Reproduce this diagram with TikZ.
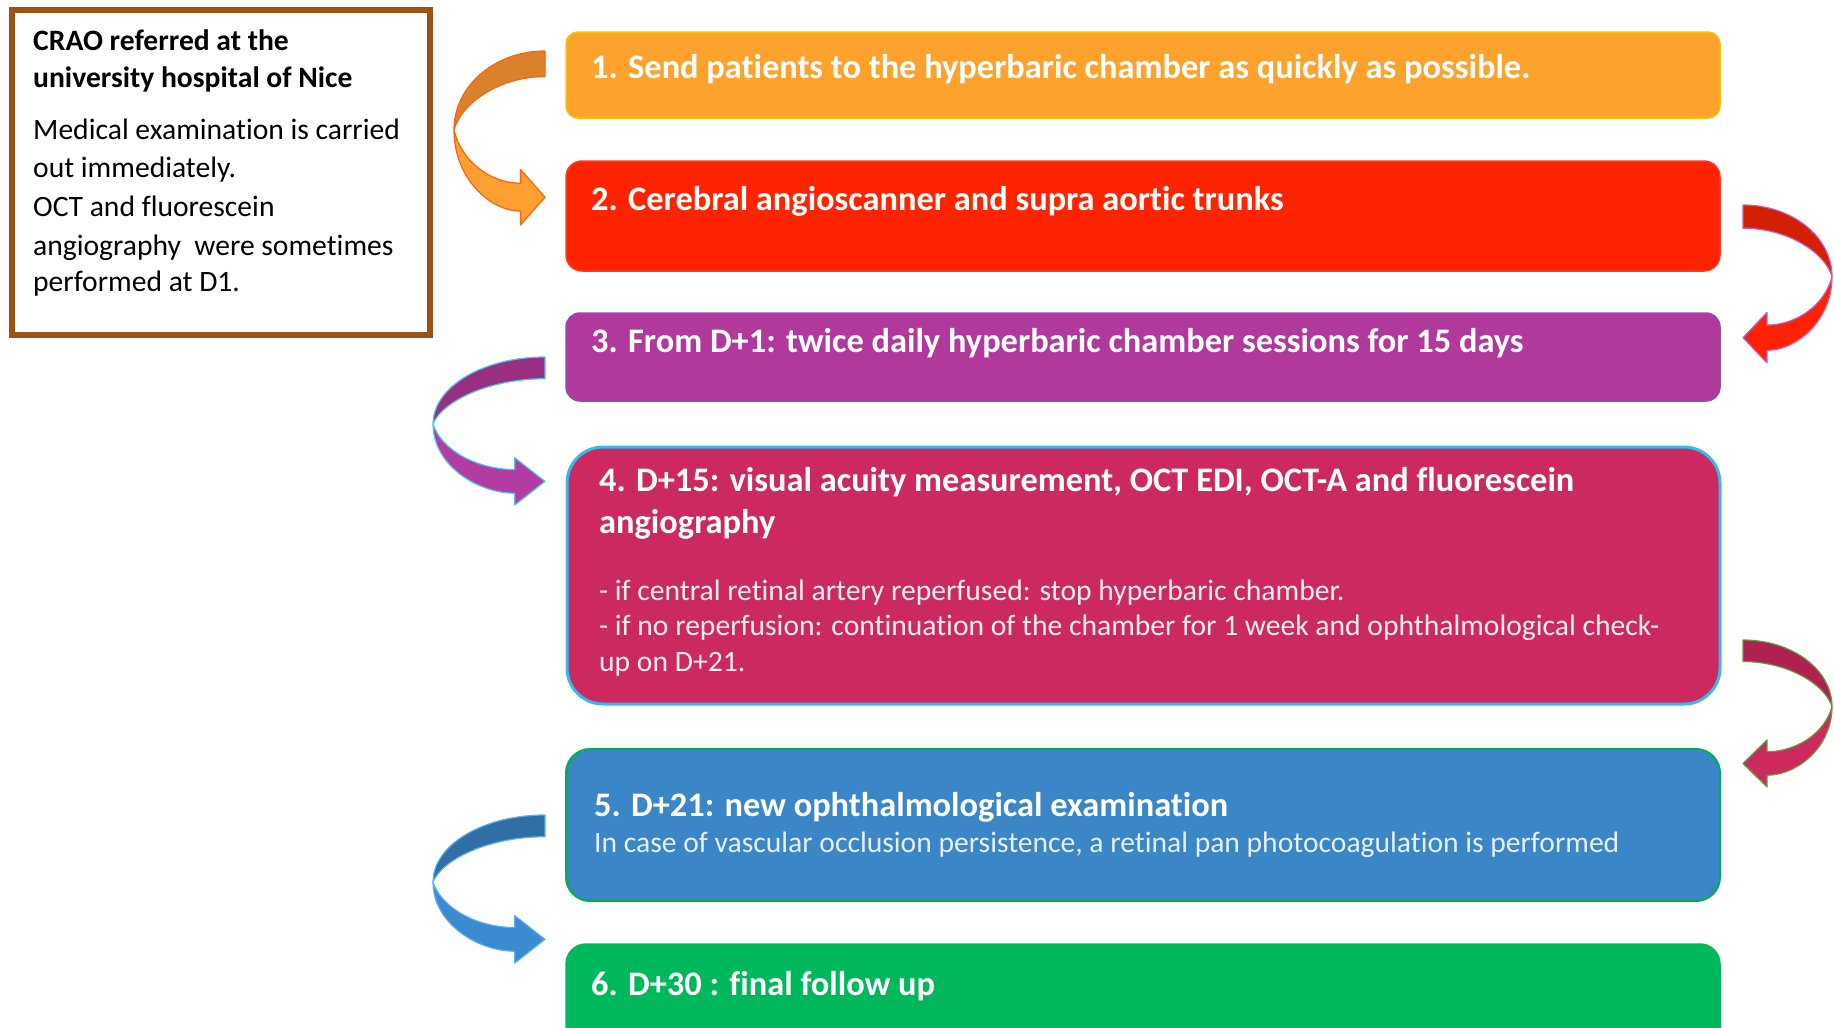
\documentclass[tikz,border=0pt]{standalone}
\usepackage{fontspec}
\setmainfont[Ligatures=NoCommon]{Carlito}
\definecolor{c1}{HTML}{FDA22D}
\definecolor{c1b}{HTML}{FFC000}
\definecolor{c2}{HTML}{FF2400}
\definecolor{c2b}{HTML}{FF3A1A}
\definecolor{c3}{HTML}{B0399B}
\definecolor{c3b}{HTML}{8E4BB0}
\definecolor{c4}{HTML}{CC2A5F}
\definecolor{c4b}{HTML}{3AB8EA}
\definecolor{c5}{HTML}{3A86C6}
\definecolor{c5b}{HTML}{00B050}
\definecolor{c6}{HTML}{00B85C}
\definecolor{brownb}{HTML}{9C5211}
\definecolor{aAd}{HTML}{D9822B}
\definecolor{aAl}{HTML}{FFA030}
\definecolor{aAo}{HTML}{FF6010}
\definecolor{aBd}{HTML}{9A2F82}
\definecolor{aBl}{HTML}{B23CA2}
\definecolor{aBo}{HTML}{4FC3F7}
\definecolor{aCd}{HTML}{2F6FA6}
\definecolor{aCl}{HTML}{3C8AD0}
\definecolor{aCo}{HTML}{5AB0F0}
\definecolor{aDd}{HTML}{D42000}
\definecolor{aDl}{HTML}{FF2200}
\definecolor{aDo}{HTML}{C060C0}
\definecolor{aEd}{HTML}{B02050}
\definecolor{aEl}{HTML}{CC2A5F}
\definecolor{aEo}{HTML}{6A9A40}
\newcommand\ribbonarrow[3]{%
  \filldraw[fill=#1,draw=#3,line width=1.2pt,line join=round]
    (0,0) .. controls (-55,0) and (-100,30) .. (-100,68)
    .. controls (-92,45) and (-50,22) .. (0,22) -- cycle;
  \filldraw[fill=#2,draw=#3,line width=1.2pt,line join=round]
    (-100,68) .. controls (-100,110) and (-60,138) .. (-27,138)
    -- (-27,150) -- (0,126) -- (-27,102) -- (-27,114)
    .. controls (-60,114) and (-92,95) .. (-100,68) -- cycle;
}
\tikzset{
  stepbox/.style={line width=1.5pt},
  ttl/.style={anchor=base west,inner sep=0pt,text=white,font=\fontsize{34.4}{40}\selectfont\bfseries},
  bdy/.style={anchor=base west,inner sep=0pt,font=\fontsize{29.6}{35}\selectfont},
  lft/.style={anchor=base west,inner sep=0pt,text=black,font=\fontsize{29.6}{35}\selectfont},
}
\begin{document}
\begin{tikzpicture}[x=1pt,y=-1pt]
\useasboundingbox (0,0) rectangle (1834,1028);
\begin{scope}
\clip (0,0) rectangle (1834,1028);
% left box
\draw[brownb,line width=6pt,fill=white] (12,10) rectangle (430,335);
\node[lft,font=\fontsize{29.6}{35}\selectfont\bfseries] (l1) at (33,50) {CRAO referred at the};
\node[lft,font=\fontsize{29.6}{35}\selectfont\bfseries] (l2) at (33,87) {university hospital of Nice};
\node[lft] (l3) at (33,139) {Medical examination is carried};
\node[lft] (l4) at (33,177) {out immediately.};
\node[lft] (l5) at (33,216) {OCT and fluorescein};
\node[lft] (l6) at (33,255) {angiography\ \ were sometimes};
\node[lft] (l7) at (33,291) {performed at D1.};
% step boxes
\filldraw[stepbox,fill=c1,draw=c1b,rounded corners=12pt] (566,32) rectangle (1720,118);
\filldraw[stepbox,fill=c2,draw=c2b,rounded corners=16pt] (566,161) rectangle (1720,271);
\filldraw[stepbox,fill=c3,draw=c3b,rounded corners=14pt] (566,313) rectangle (1720,401);
\filldraw[line width=3pt,fill=c4,draw=c4b,rounded corners=36pt] (567,447) rectangle (1720,704);
\filldraw[line width=2pt,fill=c5,draw=c5b,rounded corners=24pt] (566,749) rectangle (1720,901);
\filldraw[stepbox,fill=c6,draw=c6,rounded corners=20pt] (566,944) rectangle (1720,1060);
% texts
\node[ttl] (t1) at (591,78) {1. Send patients to the hyperbaric chamber as quickly as possible.};
\node[ttl] (t2) at (591,210) {2. Cerebral angioscanner and supra aortic trunks};
\node[ttl] (t3) at (591,352) {3. From D+1: twice daily hyperbaric chamber sessions for 15 days};
\node[ttl] (t4a) at (599,491) {4. D+15: visual acuity measurement, OCT EDI, OCT-A and fluorescein};
\node[ttl] (t4b) at (599,533) {angiography};
\node[bdy,text=white!92!c4] (t4c) at (599,600) {- if central retinal artery reperfused: stop hyperbaric chamber.};
\node[bdy,text=white!92!c4] (t4d) at (599,635) {- if no reperfusion: continuation of the chamber for 1 week and ophthalmological check-};
\node[bdy,text=white!92!c4] (t4e) at (599,671) {up on D+21.};
\node[ttl] (t5a) at (594,816) {5. D+21: new ophthalmological examination};
\node[bdy,text=white!88!c5] (t5b) at (594,852) {In case of vascular occlusion persistence, a retinal pan photocoagulation is performed};
\node[ttl] (t6) at (591,995) {6. D+30 : final follow up};
% arrows
\begin{scope}[shift={(545,51)},xscale=0.91,yscale=1.16]\ribbonarrow{aAd}{aAl}{aAo}\end{scope}
\begin{scope}[shift={(545,357)},xscale=1.12,yscale=0.987]\ribbonarrow{aBd}{aBl}{aBo}\end{scope}
\begin{scope}[shift={(545,815)},xscale=1.12,yscale=0.987]\ribbonarrow{aCd}{aCl}{aCo}\end{scope}
\begin{scope}[shift={(1743,205)},xscale=-0.89,yscale=1.053]\ribbonarrow{aDd}{aDl}{aDo}\end{scope}
\begin{scope}[shift={(1743,640)},xscale=-0.89,yscale=0.98]\ribbonarrow{aEd}{aEl}{aEo}\end{scope}
\end{scope}
\end{tikzpicture}
\end{document}
